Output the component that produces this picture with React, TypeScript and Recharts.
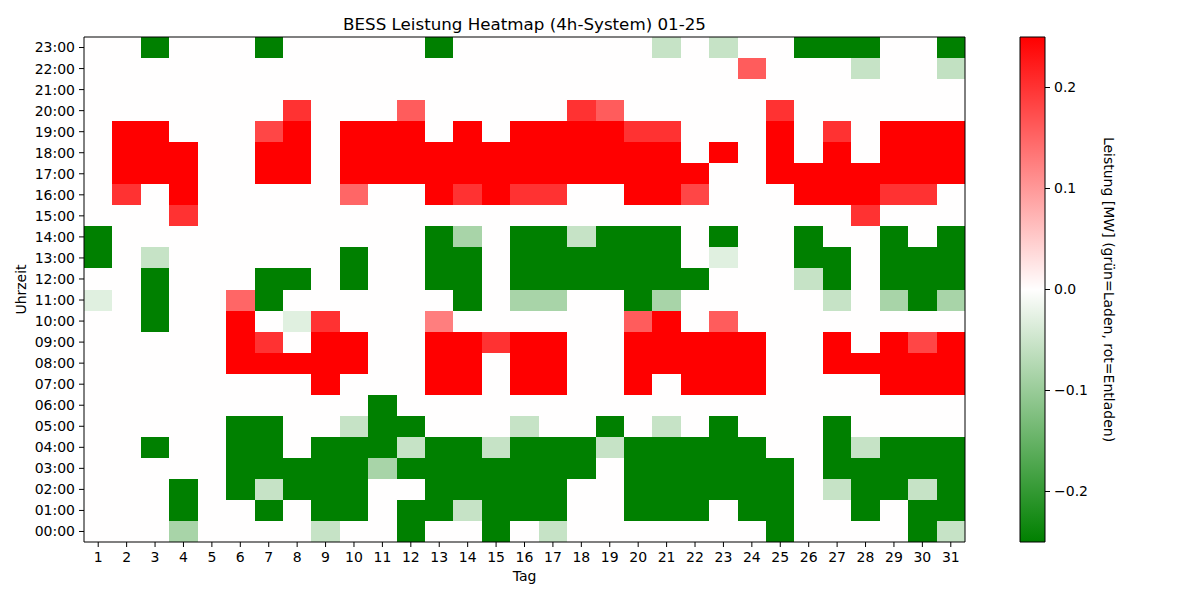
import { ScatterChart, Scatter, XAxis, YAxis, ReferenceArea, Label } from 'recharts';

// Tage im Januar 2025 und Stunden des Tages
const days = [
  1, 2, 3, 4, 5, 6, 7, 8, 9, 10, 11, 12, 13, 14, 15, 16,
  17, 18, 19, 20, 21, 22, 23, 24, 25, 26, 27, 28, 29, 30, 31,
];
const hours = [0, 1, 2, 3, 4, 5, 6, 7, 8, 9, 10, 11, 12, 13, 14, 15, 16, 17, 18, 19, 20, 21, 22, 23];
const hourLabels = [
  '00:00', '01:00', '02:00', '03:00', '04:00', '05:00', '06:00', '07:00',
  '08:00', '09:00', '10:00', '11:00', '12:00', '13:00', '14:00', '15:00',
  '16:00', '17:00', '18:00', '19:00', '20:00', '21:00', '22:00', '23:00',
];
const colorbarTicks = [-0.2, -0.1, 0, 0.1, 0.2];

// Leistung in MW je Stunde, Tag 1..31 (negativ = Laden, positiv = Entladen)
const h00 = [0, 0, 0, -0.085, 0, 0, 0, 0, -0.055, 0, 0, -0.25, 0, 0, -0.25, 0, -0.055, 0, 0, 0, 0, 0, 0, 0, -0.25, 0, 0, 0, 0, -0.25, -0.055];
const h01 = [0, 0, 0, -0.25, 0, 0, -0.25, 0, -0.25, -0.25, 0, -0.25, -0.25, -0.055, -0.25, -0.25, -0.25, 0, 0, -0.25, -0.25, -0.25, 0, -0.25, -0.25, 0, 0, -0.25, 0, -0.25, -0.25];
const h02 = [0, 0, 0, -0.25, 0, -0.25, -0.055, -0.25, -0.25, -0.25, 0, 0, -0.25, -0.25, -0.25, -0.25, -0.25, 0, 0, -0.25, -0.25, -0.25, -0.25, -0.25, -0.25, 0, -0.055, -0.25, -0.25, -0.055, -0.25];
const h03 = [0, 0, 0, 0, 0, -0.25, -0.25, -0.25, -0.25, -0.25, -0.085, -0.25, -0.25, -0.25, -0.25, -0.25, -0.25, -0.25, 0, -0.25, -0.25, -0.25, -0.25, -0.25, -0.25, 0, -0.25, -0.25, -0.25, -0.25, -0.25];
const h04 = [0, 0, -0.25, 0, 0, -0.25, -0.25, 0, -0.25, -0.25, -0.25, -0.055, -0.25, -0.25, -0.055, -0.25, -0.25, -0.25, -0.055, -0.25, -0.25, -0.25, -0.25, -0.25, 0, 0, -0.25, -0.055, -0.25, -0.25, -0.25];
const h05 = [0, 0, 0, 0, 0, -0.25, -0.25, 0, 0, -0.055, -0.25, -0.25, 0, 0, 0, -0.055, 0, 0, -0.25, 0, -0.055, 0, -0.25, 0, 0, 0, -0.25, 0, 0, 0, 0];
const h06 = [0, 0, 0, 0, 0, 0, 0, 0, 0, 0, -0.25, 0, 0, 0, 0, 0, 0, 0, 0, 0, 0, 0, 0, 0, 0, 0, 0, 0, 0, 0, 0];
const h07 = [0, 0, 0, 0, 0, 0, 0, 0, 0.25, 0, 0, 0, 0.25, 0.25, 0, 0.25, 0.25, 0, 0, 0.25, 0, 0.25, 0.25, 0.25, 0, 0, 0, 0, 0.25, 0.25, 0.25];
const h08 = [0, 0, 0, 0, 0, 0.25, 0.25, 0.25, 0.25, 0.25, 0, 0, 0.25, 0.25, 0, 0.25, 0.25, 0, 0, 0.25, 0.25, 0.25, 0.25, 0.25, 0, 0, 0.25, 0.25, 0.25, 0.25, 0.25];
const h09 = [0, 0, 0, 0, 0, 0.25, 0.2, 0, 0.25, 0.25, 0, 0, 0.25, 0.25, 0.2, 0.25, 0.25, 0, 0, 0.25, 0.25, 0.25, 0.25, 0.25, 0, 0, 0.25, 0, 0.25, 0.18, 0.25];
const h10 = [0, 0, -0.25, 0, 0, 0.25, 0, -0.03, 0.2, 0, 0, 0, 0.125, 0, 0, 0, 0, 0, 0, 0.16, 0.25, 0, 0.16, 0, 0, 0, 0, 0, 0, 0, 0];
const h11 = [-0.03, 0, -0.25, 0, 0, 0.15, -0.25, 0, 0, 0, 0, 0, 0, -0.25, 0, -0.085, -0.085, 0, 0, -0.25, -0.085, 0, 0, 0, 0, 0, -0.055, 0, -0.085, -0.25, -0.085];
const h12 = [0, 0, -0.25, 0, 0, 0, -0.25, -0.25, 0, -0.25, 0, 0, -0.25, -0.25, 0, -0.25, -0.25, -0.25, -0.25, -0.25, -0.25, -0.25, 0, 0, 0, -0.055, -0.25, 0, -0.25, -0.25, -0.25];
const h13 = [-0.25, 0, -0.055, 0, 0, 0, 0, 0, 0, -0.25, 0, 0, -0.25, -0.25, 0, -0.25, -0.25, -0.25, -0.25, -0.25, -0.25, 0, -0.03, 0, 0, -0.25, -0.25, 0, -0.25, -0.25, -0.25];
const h14 = [-0.25, 0, 0, 0, 0, 0, 0, 0, 0, 0, 0, 0, -0.25, -0.085, 0, -0.25, -0.25, -0.055, -0.25, -0.25, -0.25, 0, -0.25, 0, 0, -0.25, 0, 0, -0.25, 0, -0.25];
const h15 = [0, 0, 0, 0.2, 0, 0, 0, 0, 0, 0, 0, 0, 0, 0, 0, 0, 0, 0, 0, 0, 0, 0, 0, 0, 0, 0, 0, 0.2, 0, 0, 0];
const h16 = [0, 0.2, 0, 0.25, 0, 0, 0, 0, 0, 0.15, 0, 0, 0.25, 0.2, 0.25, 0.2, 0.2, 0, 0, 0.25, 0.25, 0.18, 0, 0, 0, 0.25, 0.25, 0.25, 0.2, 0.2, 0];
const h17 = [0, 0.25, 0.25, 0.25, 0, 0, 0.25, 0.25, 0, 0.25, 0.25, 0.25, 0.25, 0.25, 0.25, 0.25, 0.25, 0.25, 0.25, 0.25, 0.25, 0.25, 0, 0, 0.25, 0.25, 0.25, 0.25, 0.25, 0.25, 0.25];
const h18 = [0, 0.25, 0.25, 0.25, 0, 0, 0.25, 0.25, 0, 0.25, 0.25, 0.25, 0.25, 0.25, 0.25, 0.25, 0.25, 0.25, 0.25, 0.25, 0.25, 0, 0.25, 0, 0.25, 0, 0.25, 0, 0.25, 0.25, 0.25];
const h19 = [0, 0.25, 0.25, 0, 0, 0, 0.18, 0.25, 0, 0.25, 0.25, 0.25, 0, 0.25, 0, 0.25, 0.25, 0.25, 0.25, 0.2, 0.2, 0, 0, 0, 0.25, 0, 0.2, 0, 0.25, 0.25, 0.25];
const h20 = [0, 0, 0, 0, 0, 0, 0, 0.2, 0, 0, 0, 0.16, 0, 0, 0, 0, 0, 0.2, 0.16, 0, 0, 0, 0, 0, 0.2, 0, 0, 0, 0, 0, 0];
const h21 = [0, 0, 0, 0, 0, 0, 0, 0, 0, 0, 0, 0, 0, 0, 0, 0, 0, 0, 0, 0, 0, 0, 0, 0, 0, 0, 0, 0, 0, 0, 0];
const h22 = [0, 0, 0, 0, 0, 0, 0, 0, 0, 0, 0, 0, 0, 0, 0, 0, 0, 0, 0, 0, 0, 0, 0, 0.16, 0, 0, 0, -0.055, 0, 0, -0.06];
const h23 = [0, 0, -0.25, 0, 0, 0, -0.25, 0, 0, 0, 0, 0, -0.25, 0, 0, 0, 0, 0, 0, 0, -0.055, 0, -0.055, 0, 0, -0.25, -0.25, -0.25, 0, 0, -0.25];

const powerByHour = [
  h00, h01, h02, h03, h04, h05, h06, h07, h08, h09, h10, h11,
  h12, h13, h14, h15, h16, h17, h18, h19, h20, h21, h22, h23,
];

const VMAX = 0.25;

// green -> white -> red, wie matplotlib LinearSegmentedColormap (256 Stufen)
function powerColor(v: number) {
  const t = Math.min(1, Math.max(0, (v + VMAX) / (2 * VMAX)));
  const idx = Math.min(255, Math.floor(t * 256));
  const p = idx / 255;
  let r, g, b;
  if (p < 0.5) {
    const f = p / 0.5;
    r = 255 * f;
    g = 128 + 127 * f;
    b = 255 * f;
  } else {
    const f = (p - 0.5) / 0.5;
    r = 255;
    g = 255 * (1 - f);
    b = 255 * (1 - f);
  }
  return `rgb(${Math.round(r)},${Math.round(g)},${Math.round(b)})`;
}

const cells = powerByHour.flatMap((row, h) =>
  row.map((value, i) => ({ day: days[i], hour: hours[h], value }))
);
const colorbarPoints = colorbarTicks.map((v) => ({ x: 0.5, y: v }));

const font = 'DejaVu Sans, sans-serif';
const tickStyle = { fill: '#000', fontSize: 14 };

function HeatCell(props: any) {
  const { x, y, width, height, value } = props;
  return (
    <rect x={x} y={y} width={width} height={height} fill={powerColor(value)} shapeRendering="crispEdges" />
  );
}

function YLabel(props: any) {
  const vb = props.viewBox;
  const x = vb.x + 2;
  const y = vb.y + vb.height / 2;
  return (
    <text x={x} y={y} transform={`rotate(-90, ${x}, ${y})`} textAnchor="middle" fontSize={14} fill="#000">
      Uhrzeit
    </text>
  );
}

function ColorbarLabel(props: any) {
  const vb = props.viewBox;
  const x = vb.x + 59;
  const y = vb.y + vb.height / 2;
  return (
    <text x={x} y={y} transform={`rotate(90, ${x}, ${y})`} textAnchor="middle" fontSize={14} fill="#000">
      Leistung [MW] (grün=Laden, rot=Entladen)
    </text>
  );
}

export default function App() {
  return (
    <div style={{ position: 'absolute', left: 0, top: 0, width: 1200, height: 600, background: '#fff', fontFamily: font }}>
      <div
        style={{
          position: 'absolute', left: 84, top: 14, width: 881, textAlign: 'center',
          fontSize: 16.7, lineHeight: '20px', color: '#000',
        }}
      >
        BESS Leistung Heatmap (4h-System) 01-25
      </div>

      <div style={{ position: 'absolute', left: 0, top: 0 }}>
        <ScatterChart width={1000} height={600} margin={{ top: 37, right: 35, bottom: 18, left: 24 }}>
          <XAxis
            type="number"
            dataKey="day"
            domain={[0.5, 31.5]}
            ticks={days}
            interval={0}
            allowDataOverflow
            axisLine={false}
            stroke="#000"
            tickLine={{ stroke: '#000' }}
            tickSize={5}
            tickMargin={5}
            tick={tickStyle}
            height={40}
          >
            <Label value="Tag" position="insideBottom" offset={1} fontSize={14} fill="#000" />
          </XAxis>
          <YAxis
            type="number"
            dataKey="hour"
            domain={[-0.5, 23.5]}
            ticks={hours}
            interval={0}
            allowDataOverflow
            tickFormatter={(v) => hourLabels[v]}
            axisLine={false}
            stroke="#000"
            tickLine={{ stroke: '#000' }}
            tickSize={5}
            tickMargin={4}
            tick={tickStyle}
            width={60}
          >
            <Label content={YLabel} />
          </YAxis>
          {cells.map((c) => (
            <ReferenceArea
              key={`${c.day}-${c.hour}`}
              x1={c.day - 0.5}
              x2={c.day + 0.5}
              y1={c.hour - 0.5}
              y2={c.hour + 0.5}
              shape={(p: any) => <HeatCell {...p} value={c.value} />}
            />
          ))}
          <Scatter data={cells} dataKey="hour" shape={() => <g />} isAnimationActive={false} />
          <ReferenceArea x1={0.5} x2={31.5} y1={-0.5} y2={23.5} fill="none" fillOpacity={0} stroke="#000" strokeWidth={1} />
        </ScatterChart>
      </div>

      <div style={{ position: 'absolute', left: 1000, top: 0 }}>
        <ScatterChart width={200} height={600} margin={{ top: 37, right: 55, bottom: 58, left: 20 }}>
          <defs>
            <linearGradient id="cbGrad" x1="0" y1="0" x2="0" y2="1">
              <stop offset="0%" stopColor={powerColor(VMAX)} />
              <stop offset="50%" stopColor={powerColor(0)} />
              <stop offset="100%" stopColor={powerColor(-VMAX)} />
            </linearGradient>
          </defs>
          <XAxis type="number" dataKey="x" domain={[0, 1]} hide height={0} />
          <YAxis
            type="number"
            dataKey="y"
            orientation="right"
            domain={[-VMAX, VMAX]}
            ticks={colorbarTicks}
            interval={0}
            allowDataOverflow
            axisLine={false}
            stroke="#000"
            tickLine={{ stroke: '#000' }}
            tickSize={5}
            tickMargin={4}
            tick={tickStyle}
            tickFormatter={(v) => (v < 0 ? '\u2212' : '') + Math.abs(v).toFixed(1)}
            width={100}
          >
            <Label content={ColorbarLabel} />
          </YAxis>
          <ReferenceArea x1={0} x2={1} y1={-VMAX} y2={VMAX} fill="url(#cbGrad)" fillOpacity={1} stroke="#000" strokeWidth={1} />
          <Scatter data={colorbarPoints} dataKey="y" shape={() => <g />} isAnimationActive={false} />
        </ScatterChart>
      </div>
    </div>
  );
}
